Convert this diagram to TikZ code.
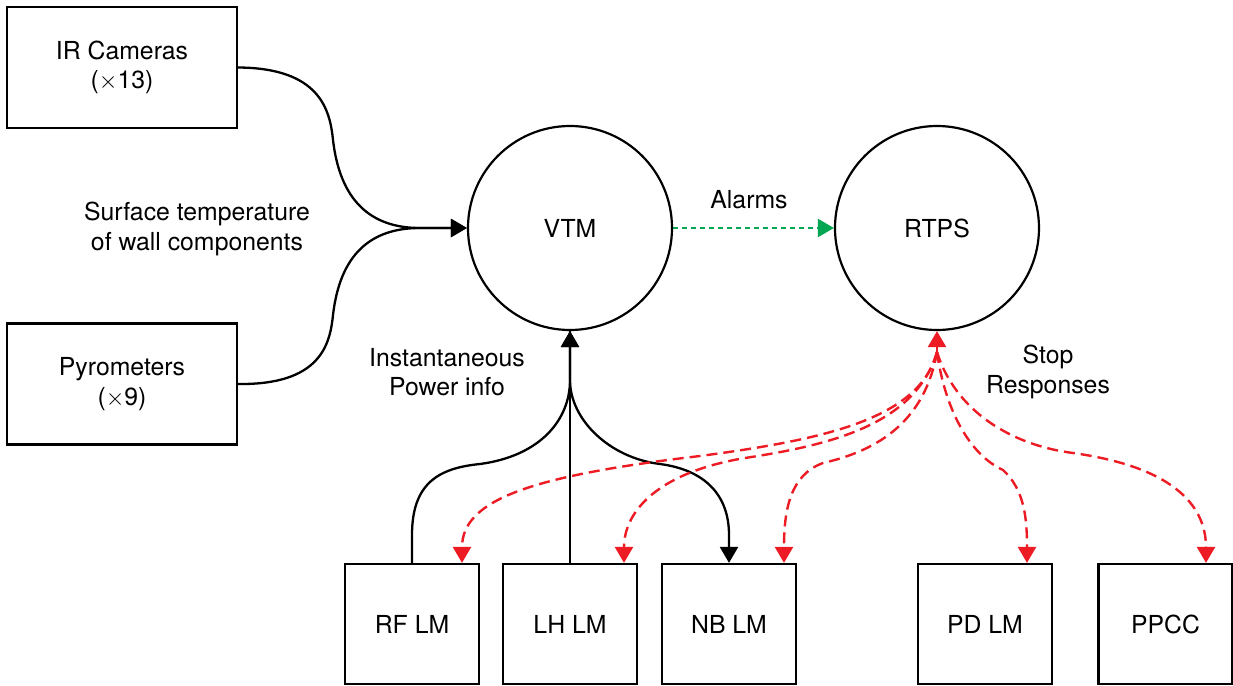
\documentclass[tikz,border=0pt]{standalone}
\usepackage{fontspec}
\setmainfont{TeX Gyre Heros}
\usetikzlibrary{arrows.meta,calc}
\definecolor{myred}{RGB}{237,28,36}
\definecolor{mygreen}{RGB}{0,166,81}
\begin{document}
\begin{tikzpicture}[x=0.5pt,y=-0.5pt,
  every node/.style={font=\fontsize{12.4}{14.8}\selectfont, align=center},
  lmbox/.style={draw, line width=1.1pt, minimum width=67pt, minimum height=60pt, inner sep=0pt},
  srcbox/.style={draw, line width=1.1pt, minimum width=115pt, minimum height=60.5pt, inner sep=0pt},
  circ/.style={draw, circle, line width=1.1pt, minimum size=102pt, inner sep=0pt},
  tip/.style={-{Triangle[length=8pt,width=9pt]}},
  blk/.style={line width=1.15pt, tip},
  reddash/.style={myred, line width=1.2pt, dash pattern=on 5.5pt off 3pt, tip},
  greendot/.style={mygreen, line width=1.2pt, dash pattern=on 2.5pt off 2pt, tip},
  lbl/.style={inner sep=0pt}
]
\useasboundingbox (0,0) rectangle (1233,686);

% source boxes
\node[srcbox] (IR) at (122,67.5) {IR Cameras\\($\times$13)};
\node[srcbox] (PY) at (122,384) {Pyrometers\\($\times$9)};

% circles
\node[circ] (VTM) at (570,228) {VTM};
\node[circ] (RTPS) at (937,228) {RTPS};

% bottom boxes
\node[lmbox] (RF) at (412,624) {RF LM};
\node[lmbox] (LH) at (570,624) {LH LM};
\node[lmbox] (NB) at (729,624) {NB LM};
\node[lmbox] (PD) at (985,624) {PD LM};
\node[lmbox] (PP) at (1165.5,624) {PPCC};

% labels
\node[lbl] (surf) at (197,229) {Surface temperature\\of wall components};
\node[lbl] (alarms) at (749,200) {Alarms};
\node[lbl] (inst) at (447,372) {Instantaneous\\Power info};
\node[lbl] (stop) at (1048,372) {Stop\\Responses};

% black connectors
\draw[blk] (IR.east) .. controls (320,68) and (330,110) .. (333,140)
  .. controls (340,200) and (370,228) .. (420,228) -- (VTM.west);
\draw[blk] (PY.east) .. controls (320,385) and (330,345) .. (333,315)
  .. controls (340,255) and (370,228) .. (420,228) -- (VTM.west);

\draw[blk] (RF.north) -- (412,535) .. controls (412,482) and (440,468) .. (480,464)
  .. controls (540,456) and (570,420) .. (570,380) -- (VTM.south);
\draw[blk] (LH.north) -- (VTM.south);
\draw[blk] (VTM.south) -- (570,380) .. controls (570,420) and (610,458) .. (660,464)
  .. controls (705,470) and (729,495) .. (729,535) -- (NB.north);

% green alarm
\draw[greendot] (VTM.east) -- (RTPS.west);

% red connectors
\coordinate (rs) at (937,352);
\coordinate (rfT) at ($(RF.north)+(50,0)$);
\coordinate (lhT) at ($(LH.north)+(54,0)$);
\coordinate (nbT) at ($(NB.north)+(55,0)$);
\coordinate (pdT) at ($(PD.north)+(42,0)$);
\coordinate (ppT) at ($(PP.north)+(40.5,0)$);
\draw[myred, line width=1.2pt, tip] (rs) -- (RTPS.south);
\draw[reddash] (rs) .. controls (920,420) and (820,440) .. (700,456)
  .. controls (530,476) and (462,500) .. (rfT);
\draw[reddash] (rs) .. controls (915,425) and (830,445) .. (745,458)
  .. controls (660,472) and (624,510) .. (lhT);
\draw[reddash] (rs) .. controls (925,420) and (880,450) .. (823,463)
  .. controls (790,475) and (784,510) .. (nbT);
\draw[reddash] (rs) .. controls (945,410) and (970,455) .. (1003,470)
  .. controls (1025,490) and (1027,520) .. (pdT);
\draw[reddash] (rs) .. controls (955,410) and (1010,445) .. (1073,453)
  .. controls (1180,468) and (1206,510) .. (ppT);
\end{tikzpicture}
\end{document}
